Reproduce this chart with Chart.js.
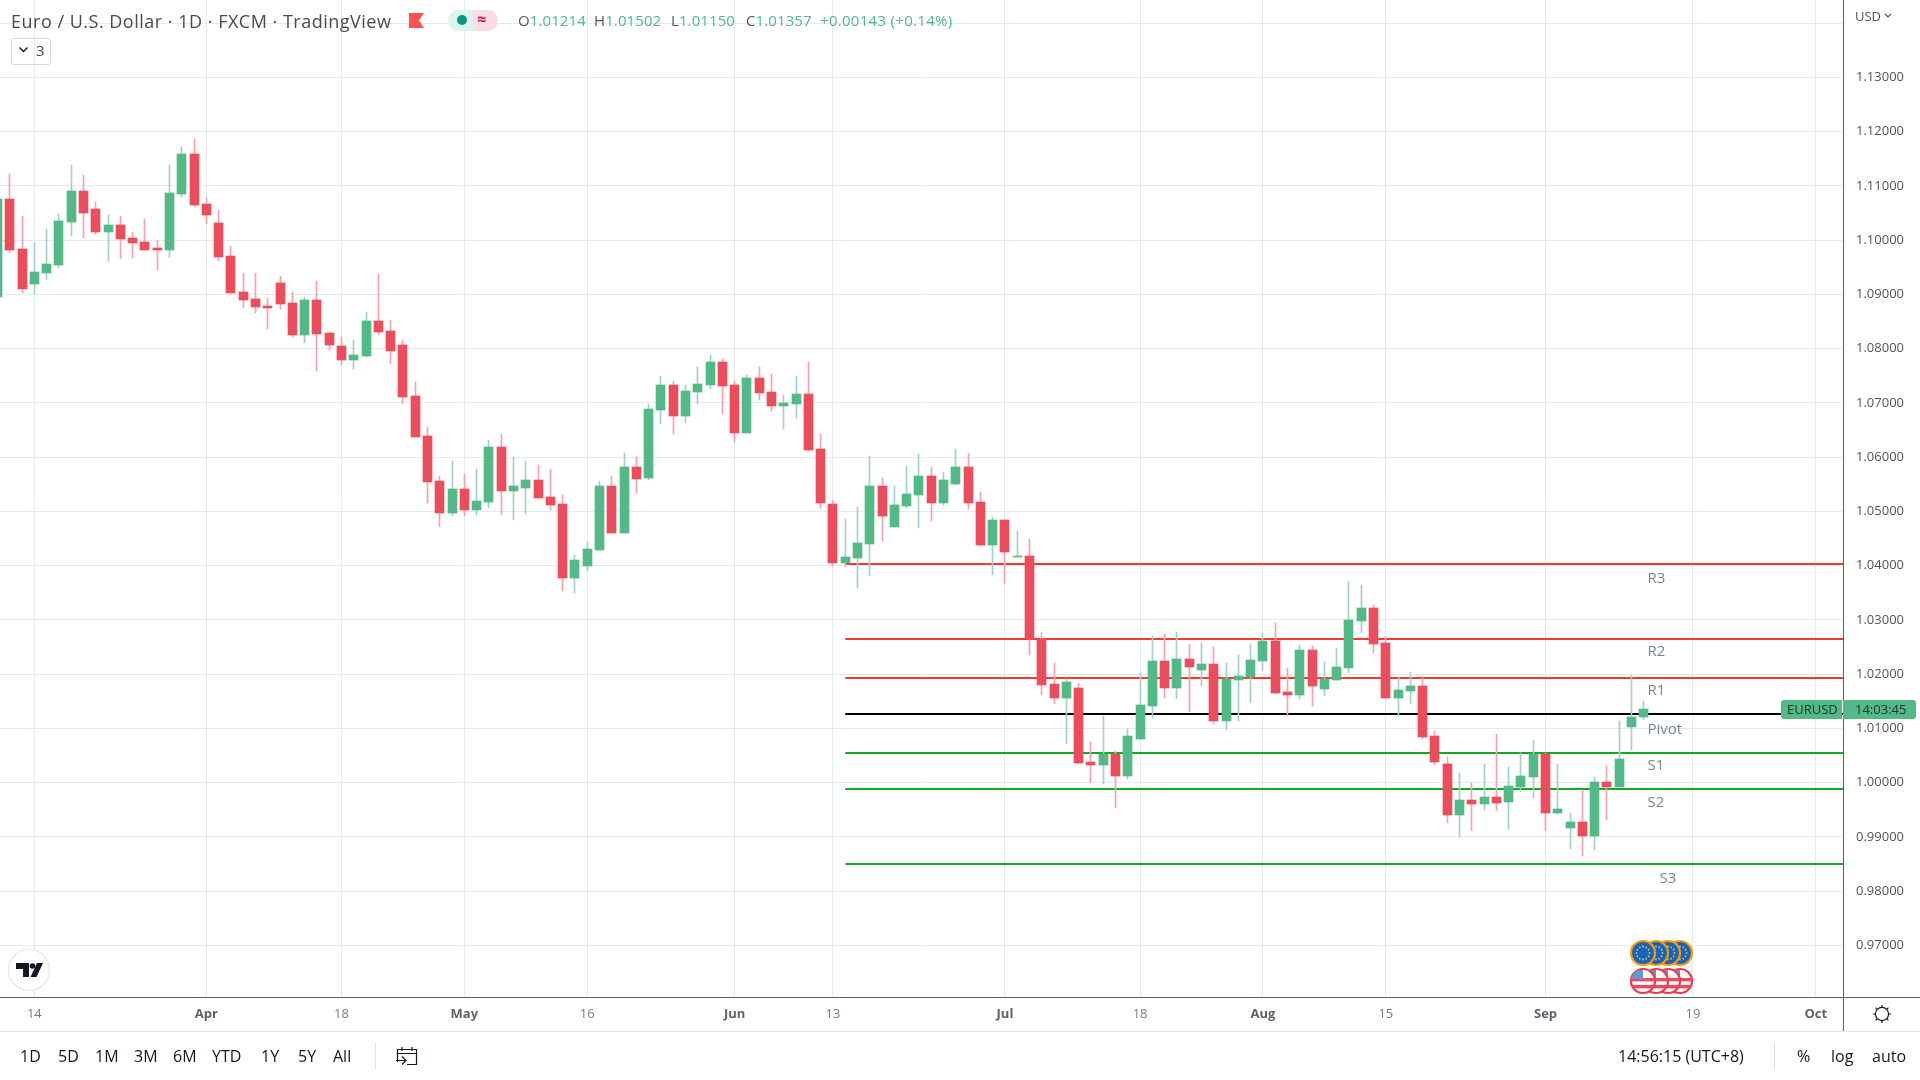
<!DOCTYPE html>
<html>
<head>
<meta charset="utf-8">
<title>EURUSD 1D</title>
<script src="https://cdn.jsdelivr.net/npm/chart.js@4"></script>
<style>
  html, body { margin: 0; padding: 0; background: #fff; width: 1920px; height: 1080px; overflow: hidden; font-family: "Open Sans", sans-serif; }
  canvas { position: absolute; left: 0; top: 0; }
  .t { position: absolute; white-space: nowrap; line-height: 1; }
  .g { color: #53b987; }
  .k { color: #555; }
  .tool { position: absolute; top: 1047px; font-size: 16px; line-height: 18px; color: #131722; white-space: nowrap; }
  .box { position: absolute; }
  svg { position: absolute; overflow: visible; }
</style>
</head>
<body>
<canvas id="chart" width="1920" height="1031"></canvas>

<div class="t" style="left:11px;top:12px;font-size:18px;letter-spacing:0.5px;color:#4a4a4a;">Euro / U.S. Dollar · 1D · FXCM · TradingView</div>
<svg style="left:409px;top:13px" width="16" height="15"><path d="M0 0H15L10 7.5L15 15H0Z" fill="#ff5252"/></svg>
<div class="box" style="left:448px;top:10px;width:25px;height:21px;background:#dff2ee;border-radius:11px 0 0 11px;"></div>
<div class="box" style="left:473px;top:10px;width:25px;height:21px;background:#fbdde6;border-radius:0 11px 11px 0;"></div>
<div class="box" style="left:457px;top:15px;width:10px;height:10px;background:#089981;border-radius:50%;"></div>
<div class="t" style="left:477px;top:11px;font-size:16px;font-weight:700;color:#c2185b;">≈</div>
<div class="t k" style="left:518px;top:13px;font-size:15px;letter-spacing:0.1px;">O<span class="g">1.01214</span></div>
<div class="t k" style="left:594px;top:13px;font-size:15px;letter-spacing:0.1px;">H<span class="g">1.01502</span></div>
<div class="t k" style="left:671px;top:13px;font-size:15px;letter-spacing:0.1px;">L<span class="g">1.01150</span></div>
<div class="t k" style="left:746px;top:13px;font-size:15px;letter-spacing:0.1px;">C<span class="g">1.01357</span></div>
<div class="t g" style="left:820px;top:13px;font-size:15px;letter-spacing:0.3px;">+0.00143 (+0.14%)</div>

<div class="box" style="left:11px;top:38px;width:38px;height:25px;border:1px solid #d6d8de;border-radius:3px;"></div>
<svg style="left:18px;top:46px" width="12" height="8"><path d="M1.5 1.5L5.5 5.5L9.5 1.5" fill="none" stroke="#131722" stroke-width="1.4"/></svg>
<div class="t" style="left:36px;top:43px;font-size:15px;color:#4a4a4a;">3</div>

<div class="t" style="left:1855px;top:10px;font-size:13px;color:#50535e;">USD</div>
<svg style="left:1884px;top:13px" width="8" height="6"><path d="M1 1L4 4L7 1" fill="none" stroke="#50535e" stroke-width="1.2"/></svg>

<div class="box" style="left:1781px;top:700px;width:61px;height:19px;background:#53b987;border-radius:3px 0 0 3px;"></div>
<div class="box" style="left:1843px;top:700px;width:73px;height:19px;background:#53b987;border-radius:0 3px 3px 0;"></div>
<div class="t" style="left:1787px;top:703px;font-size:13px;color:#12362a;">EURUSD</div>
<div class="t" style="left:1855px;top:703px;font-size:13px;color:#12362a;">14:03:45</div>

<svg style="left:0;top:0" width="1920" height="1080" viewBox="0 0 1920 1080">
  <g id="coins"></g>
  <circle cx="29" cy="970" r="20.5" fill="#fff" stroke="#e6e6e8" stroke-width="1.2"/>
  <path d="M16 963H29V977H23V969H16Z" fill="#131722"/>
  <circle cx="32.5" cy="966" r="2.8" fill="#131722"/>
  <path d="M37 963H43L36.5 977H30.5Z" fill="#131722"/>
  <g fill="none" stroke="#131722" stroke-width="1.2">
    <circle cx="1882" cy="1014" r="6.6"/>
    <path d="M1882 1005V1007.4M1882 1020.6V1023M1873 1014H1875.4M1888.6 1014H1891M1875.6 1007.6L1877.3 1009.3M1886.7 1018.7L1888.4 1020.4M1875.6 1020.4L1877.3 1018.7M1886.7 1009.3L1888.4 1007.6"/>
    <path d="M397.5 1062V1049.5H416.5V1064.5H407M397.5 1053.5H416.5M402 1047V1051M412 1047V1051M396 1060.5H405M402 1056.5L406 1060.5L402 1064.5"/>
  </g>
</svg>

<div class="box" style="left:0;top:1031px;width:1920px;height:1px;background:#e0e3eb;"></div>
<div class="box" style="left:1843px;top:997px;width:77px;height:1px;background:#5d606b;"></div>
<div class="box" style="left:1843px;top:997px;width:1px;height:34px;background:#5d606b;"></div>
<div class="box" style="left:375px;top:1042px;width:1px;height:28px;background:#e0e3eb;"></div>
<div class="box" style="left:1774px;top:1042px;width:1px;height:28px;background:#e0e3eb;"></div>

<div class="tool" style="left:20px">1D</div>
<div class="tool" style="left:58px">5D</div>
<div class="tool" style="left:95px">1M</div>
<div class="tool" style="left:134px">3M</div>
<div class="tool" style="left:173px">6M</div>
<div class="tool" style="left:212px">YTD</div>
<div class="tool" style="left:261px">1Y</div>
<div class="tool" style="left:298px">5Y</div>
<div class="tool" style="left:333px">All</div>
<div class="tool" style="left:1618px">14:56:15 (UTC+8)</div>
<div class="tool" style="left:1797px">%</div>
<div class="tool" style="left:1831px">log</div>
<div class="tool" style="left:1872px">auto</div>

<script>
const opens = [
  1.08951, 1.10757, 1.09836, 1.09191, 1.09393, 1.09541, 1.10333, 1.10905, 1.10573, 1.10149,
  1.10278, 1.10038, 1.09965, 1.09854, 1.09817, 1.10849, 1.11587, 1.10665, 1.10315, 1.09707,
  1.09043, 1.08914, 1.08785, 1.09209, 1.08840, 1.08250, 1.08896, 1.08287, 1.08048, 1.07790,
  1.07863, 1.08509, 1.08324, 1.08066, 1.07125, 1.06388, 1.05558, 1.04969, 1.05411, 1.05024,
  1.05171, 1.06185, 1.05374, 1.05429, 1.05577, 1.05264, 1.05135, 1.03771, 1.03992, 1.04287,
  1.05466, 1.04600, 1.05816, 1.05614, 1.06867, 1.07328, 1.06757, 1.07199, 1.07328, 1.07752,
  1.07328, 1.06443, 1.07457, 1.07199, 1.06941, 1.06978, 1.07162, 1.06148, 1.05135, 1.04047,
  1.04139, 1.04397, 1.05466, 1.04711, 1.05098, 1.05301, 1.05651, 1.05153, 1.05503, 1.05817,
  1.05172, 1.04379, 1.04840, 1.04158, 1.04176, 1.02646, 1.01817, 1.01559, 1.01743, 1.00379,
  1.00324, 1.00527, 1.00121, 1.00803, 1.01411, 1.02241, 1.01743, 1.02278, 1.02075, 1.02186,
  1.01135, 1.01891, 1.01946, 1.02241, 1.02610, 1.01669, 1.01614, 1.02443, 1.01724, 1.01890,
  1.02111, 1.02978, 1.03217, 1.02572, 1.01558, 1.01687, 1.01780, 1.00858, 1.00342, 0.99402,
  0.99678, 0.99605, 0.99734, 0.99641, 0.99918, 1.00102, 1.00526, 0.99439, 0.99162, 0.99273,
  0.99015, 1.00010, 0.99918, 1.01024, 1.01214
];
const closes = [
  1.10757, 1.09817, 1.09098, 1.09412, 1.09559, 1.10352, 1.10905, 1.10499, 1.10149, 1.10278,
  1.10020, 1.09946, 1.09817, 1.09817, 1.10868, 1.11587, 1.10647, 1.10462, 1.09688, 1.09025,
  1.08896, 1.08767, 1.08748, 1.08822, 1.08250, 1.08896, 1.08269, 1.08066, 1.07790, 1.07882,
  1.08509, 1.08306, 1.07956, 1.07108, 1.06369, 1.05540, 1.04969, 1.05411, 1.05024, 1.05190,
  1.06185, 1.05374, 1.05466, 1.05577, 1.05245, 1.05116, 1.03771, 1.04102, 1.04305, 1.05466,
  1.04600, 1.05816, 1.05595, 1.06886, 1.07328, 1.06757, 1.07217, 1.07346, 1.07752, 1.07309,
  1.06443, 1.07457, 1.07180, 1.06941, 1.06996, 1.07162, 1.06130, 1.05153, 1.04047, 1.04158,
  1.04416, 1.05466, 1.04914, 1.05116, 1.05319, 1.05651, 1.05153, 1.05577, 1.05817, 1.05153,
  1.04379, 1.04840, 1.04250, 1.04176, 1.02646, 1.01799, 1.01559, 1.01854, 1.00361, 1.00324,
  1.00527, 1.00121, 1.00858, 1.01430, 1.02241, 1.01743, 1.02278, 1.02130, 1.02186, 1.01135,
  1.01909, 1.01964, 1.02259, 1.02610, 1.01651, 1.01614, 1.02443, 1.01780, 1.01909, 1.02130,
  1.02996, 1.03217, 1.02554, 1.01558, 1.01706, 1.01780, 1.00840, 1.00379, 0.99402, 0.99678,
  0.99605, 0.99734, 0.99623, 0.99936, 1.00121, 1.00526, 0.99439, 0.99512, 0.99273, 0.99015,
  1.00010, 0.99918, 1.00434, 1.01208, 1.01357
];
const highs = [
  1.10800, 1.11218, 1.10444, 1.09946, 1.10204, 1.10481, 1.11384, 1.11200, 1.10702, 1.10462,
  1.10444, 1.10149, 1.10389, 1.10002, 1.11384, 1.11716, 1.11863, 1.10776, 1.10554, 1.09891,
  1.09393, 1.09393, 1.08932, 1.09338, 1.09043, 1.08951, 1.09246, 1.08306, 1.08214, 1.08158,
  1.08674, 1.09375, 1.08527, 1.08158, 1.07383, 1.06554, 1.05651, 1.05927, 1.05687, 1.05780,
  1.06314, 1.06425, 1.06001, 1.05927, 1.05853, 1.05780, 1.05300, 1.04194, 1.04434, 1.05558,
  1.05651, 1.06075, 1.06001, 1.06978, 1.07494, 1.07402, 1.07328, 1.07660, 1.07881, 1.07807,
  1.07402, 1.07512, 1.07660, 1.07531, 1.07144, 1.07494, 1.07752, 1.06425, 1.05208, 1.04858,
  1.05079, 1.06019, 1.05614, 1.05466, 1.05835, 1.06056, 1.05817, 1.05725, 1.06148, 1.06075,
  1.05356, 1.04895, 1.04840, 1.04637, 1.04490, 1.02775, 1.02204, 1.01909, 1.01835, 1.00748,
  1.01227, 1.00582, 1.00988, 1.02020, 1.02702, 1.02739, 1.02775, 1.02554, 1.02573, 1.02499,
  1.02204, 1.02351, 1.02554, 1.02757, 1.02941, 1.02111, 1.02535, 1.02517, 1.02222, 1.02480,
  1.03696, 1.03641, 1.03273, 1.02683, 1.01945, 1.02038, 1.01927, 1.00950, 1.00471, 1.00176,
  0.99992, 1.00342, 1.00895, 1.00287, 1.00545, 1.00784, 1.00545, 1.00342, 0.99439, 0.99863,
  1.00102, 1.00305, 1.01134, 1.01982, 1.01502
];
const lows = [
  1.08900, 1.09762, 1.09025, 1.09006, 1.09264, 1.09485, 1.10075, 1.10038, 1.10112, 1.09614,
  1.09651, 1.09670, 1.09817, 1.09449, 1.09688, 1.10794, 1.10610, 1.10296, 1.09614, 1.09006,
  1.08748, 1.08656, 1.08361, 1.08730, 1.08214, 1.08103, 1.07587, 1.07974, 1.07698, 1.07624,
  1.07845, 1.08250, 1.07716, 1.06979, 1.06369, 1.05153, 1.04711, 1.04913, 1.04913, 1.04932,
  1.05061, 1.04932, 1.04840, 1.04950, 1.05245, 1.05024, 1.03531, 1.03494, 1.03900, 1.04287,
  1.04600, 1.04600, 1.05337, 1.05577, 1.06609, 1.06425, 1.06628, 1.06978, 1.07254, 1.06793,
  1.06277, 1.06443, 1.07051, 1.06849, 1.06517, 1.06720, 1.06111, 1.05061, 1.03992, 1.03973,
  1.03586, 1.03807, 1.04453, 1.04711, 1.05061, 1.04692, 1.04821, 1.05116, 1.05485, 1.05043,
  1.04361, 1.03826, 1.03660, 1.04158, 1.02351, 1.01614, 1.01448, 1.00711, 1.00342, 0.99992,
  0.99974, 0.99531, 1.00066, 1.00803, 1.01190, 1.01559, 1.01540, 1.01301, 1.01780, 1.01080,
  1.00969, 1.01135, 1.01467, 1.02057, 1.01633, 1.01227, 1.01540, 1.01411, 1.01595, 1.01890,
  1.02019, 1.02756, 1.02388, 1.01558, 1.01227, 1.01448, 1.00803, 1.00323, 0.99254, 0.98996,
  0.99107, 0.99494, 0.99476, 0.99144, 0.99826, 0.99715, 0.99107, 0.99420, 0.98775, 0.98646,
  0.98757, 0.99310, 0.99918, 1.00600, 1.01150
];

const xTickIndexes = [3, 17, 28, 38, 48, 60, 68, 82, 93, 103, 113, 126, 138, 148];
const xTickLabels = ['14', 'Apr', '18', 'May', '16', 'Jun', '13', 'Jul', '18', 'Aug', '15', 'Sep', '19', 'Oct'];
const monthLabels = ['Apr', 'May', 'Jun', 'Jul', 'Aug', 'Sep', 'Oct'];
const yTicks = [0.97, 0.98, 0.99, 1.00, 1.01, 1.02, 1.03, 1.04, 1.05, 1.06, 1.07, 1.08, 1.09, 1.10, 1.11, 1.12, 1.13, 1.14];

const pivotNames = ['R3', 'R2', 'R1', 'Pivot', 'S1', 'S2', 'S3'];
const pivotLevels = [1.04029, 1.02646, 1.01933, 1.01264, 1.00545, 0.99881, 0.98498];
const pivotColors = ['#f23a30', '#f23a30', '#f23a30', '#000000', '#16a824', '#16a824', '#16a824'];
const pivotLabelDy = [15, 13, 13, 16, 13, 14, 15];
const pivotLabelDx = [0, 0, 0, 0, 0, 0, 12];

const UP = '#53b987', DOWN = '#eb4d5c', UP_WICK = '#a3cfca', DOWN_WICK = '#f7a1ac';
const GRID = '#e3ebf2';
const X_MIN = 0.206, X_MAX = 150.21, Y_MIN = 0.96047, Y_MAX = 1.14425;
const PIVOT_START = 69, PIVOT_LABEL_X = 134.3;

const isUp = opens.map((o, i) => closes[i] >= o);

// snap bars and levels to whole pixels so they stay as crisp as the original
const crispMarks = {
  id: 'crispMarks',
  beforeDatasetsDraw(chart) {
    chart.getSortedVisibleDatasetMetas().forEach(meta => {
      meta.data.forEach(el => {
        if (meta.type === 'bar') {
          el.x = Math.floor(el.x) + 0.5;
          el.y = Math.round(el.y);
          el.base = Math.round(el.base);
        } else {
          el.y = Math.round(el.y);
        }
      });
    });
  }
};

const pivotLabels = {
  id: 'pivotLabels',
  afterDatasetsDraw(chart) {
    const { ctx, scales: { x, y } } = chart;
    ctx.save();
    ctx.font = '15px "Open Sans"';
    ctx.fillStyle = '#758696';
    ctx.textBaseline = 'middle';
    pivotNames.forEach((name, i) => {
      ctx.fillText(name, x.getPixelForValue(PIVOT_LABEL_X) + pivotLabelDx[i], y.getPixelForValue(pivotLevels[i]) + pivotLabelDy[i]);
    });
    ctx.restore();
  }
};

const pivotDatasets = pivotLevels.map((level, i) => ({
  type: 'line',
  data: [{ x: PIVOT_START, y: level }, { x: X_MAX, y: level }],
  borderColor: pivotColors[i],
  borderWidth: 2,
  pointRadius: 0,
  order: 3
}));

new Chart(document.getElementById('chart'), {
  data: {
    datasets: [
      ...pivotDatasets,
      {
        type: 'bar',
        data: highs.map((h, i) => ({ x: i, y: [lows[i], h] })),
        backgroundColor: isUp.map(u => (u ? UP_WICK : DOWN_WICK)),
        barThickness: 1,
        grouped: false,
        order: 2
      },
      {
        type: 'bar',
        data: opens.map((o, i) => ({ x: i, y: [o, closes[i]] })),
        backgroundColor: isUp.map(u => (u ? UP : DOWN)),
        barThickness: 9,
        grouped: false,
        order: 1
      }
    ]
  },
  options: {
    responsive: false,
    animation: false,
    devicePixelRatio: 1,
    layout: { padding: 0 },
    plugins: { legend: { display: false }, tooltip: { enabled: false } },
    scales: {
      x: {
        type: 'linear',
        offset: false,
        min: X_MIN,
        max: X_MAX,
        afterBuildTicks: scale => { scale.ticks = xTickIndexes.map(value => ({ value })); },
        afterFit: scale => { scale.height = 34; scale.paddingLeft = 0; scale.paddingRight = 0; },
        grid: { color: GRID, drawTicks: false, offset: false },
        border: { color: '#5d606b', width: 1 },
        ticks: {
          autoSkip: false,
          maxRotation: 0,
          padding: 9,
          color: ctx => (monthLabels.includes(xTickLabels[ctx.index]) ? '#5f626c' : '#787b86'),
          font: ctx => ({
            family: '"Open Sans"',
            size: 13,
            weight: monthLabels.includes(xTickLabels[ctx.index]) ? '700' : '400'
          }),
          callback: (value, i) => xTickLabels[i]
        }
      },
      y: {
        position: 'right',
        min: Y_MIN,
        max: Y_MAX,
        afterBuildTicks: scale => { scale.ticks = yTicks.map(value => ({ value })); },
        afterFit: scale => { scale.width = 77; scale.paddingTop = 0; scale.paddingBottom = 0; },
        grid: { color: GRID, drawTicks: false },
        border: { color: '#5d606b', width: 1 },
        ticks: {
          autoSkip: false,
          padding: 13,
          color: '#50535e',
          font: { family: '"Open Sans"', size: 13 },
          callback: value => (value > 1.135 ? '' : value.toFixed(5))
        }
      }
    }
  },
  plugins: [crispMarks, pivotLabels]
});

// currency coins next to the last bars
const coinCenters = [1680, 1668, 1656, 1643];
const coins = document.getElementById('coins');
let coinHtml = '';
coinCenters.forEach(cx => {
  let dots = '';
  for (let a = 0; a < 12; a++) {
    const r = a * Math.PI / 6;
    dots += `<circle cx="${cx + 6.5 * Math.cos(r)}" cy="${953 + 6.5 * Math.sin(r)}" r="0.9" fill="#e8c23a"/>`;
  }
  coinHtml += `<circle cx="${cx}" cy="953" r="12" fill="#1565c0" stroke="#ff9800" stroke-width="2.2"/>${dots}`;
  coinHtml += `<clipPath id="us${cx}"><circle cx="${cx}" cy="981" r="12"/></clipPath>`;
  coinHtml += `<circle cx="${cx}" cy="981" r="12" fill="#fff" stroke="#f23645" stroke-width="2.2"/>`;
  coinHtml += `<g clip-path="url(#us${cx})"><rect x="${cx - 13}" y="978" width="26" height="3.4" fill="#f0495c"/><rect x="${cx - 13}" y="985" width="26" height="3.4" fill="#f0495c"/><rect x="${cx - 13}" y="970" width="13" height="9" fill="#5b9bd5"/></g>`;
});
coins.innerHTML = coinHtml;
</script>
</body>
</html>
